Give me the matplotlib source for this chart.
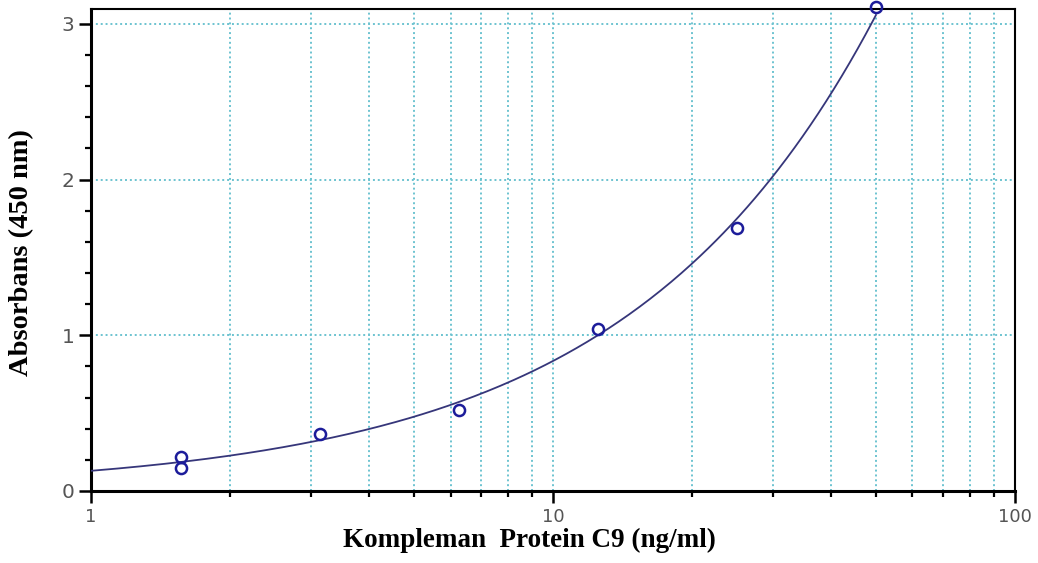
import numpy as np
import matplotlib
matplotlib.use("Agg")
import matplotlib.pyplot as plt
from matplotlib.ticker import LogLocator, MultipleLocator, NullFormatter, FixedLocator

# standard points
conc = [1.5625, 1.5625, 3.125, 6.25, 12.5, 25, 50]
absorb = [0.22, 0.15, 0.365, 0.52, 1.04, 1.69, 3.11]

# fitted curve (quadratic in log-log space)
coef = np.polyfit(np.log10(conc), np.log10(absorb), 2)
xfit = np.logspace(0, np.log10(50), 300)
yfit = 10 ** np.polyval(coef, np.log10(xfit))

fig = plt.figure(figsize=(10.38, 5.63), dpi=100)
ax = fig.add_axes([0.0877, 0.128, 0.8901, 0.856])

ax.plot(xfit, yfit, color="#36367a", lw=1.3, zorder=3)
ax.plot(conc, absorb, "o", mfc="none", mec="#1c1c9a", mew=1.8, ms=8, zorder=4, clip_on=False)

ax.set_xscale("log")
ax.set_xlim(1, 100)
ax.set_ylim(0, 3.095)

ax.xaxis.set_major_locator(FixedLocator([1, 10, 100]))
ax.xaxis.set_minor_locator(LogLocator(base=10, subs=np.arange(2, 10)))
ax.xaxis.set_minor_formatter(NullFormatter())
ax.set_xticklabels(["1", "10", "100"])
ax.yaxis.set_major_locator(FixedLocator([0, 1, 2, 3]))
ax.yaxis.set_minor_locator(MultipleLocator(0.2))

gcol = "#6cc3d0"
ax.grid(True, which="major", axis="both", color=gcol, ls=(0, (1, 1.5)), lw=1.4)
ax.grid(True, which="minor", axis="x", color=gcol, ls=(0, (1, 1.5)), lw=1.4)

ax.tick_params(which="major", direction="out", length=8.5, width=1.8, color="black",
               labelcolor="#555555")
ax.tick_params(which="minor", direction="out", length=4, width=1.6, color="black")
ax.tick_params(axis="x", which="major", pad=3.5, labelsize=13)
ax.tick_params(axis="y", which="major", pad=3.5, labelsize=14.5)

for s in ["left", "bottom"]:
    ax.spines[s].set_linewidth(2.2)
for s in ["top", "right"]:
    ax.spines[s].set_linewidth(1.5)

ax.set_xlabel("Kompleman  Protein C9 (ng/ml)", family="Liberation Serif",
              fontweight="bold", fontsize=19.5)
ax.xaxis.set_label_coords(0.474, -0.077)
ax.set_ylabel("Absorbans (450 nm)", family="Liberation Serif",
              fontweight="bold", fontsize=20.5)
ax.yaxis.set_label_coords(-0.062, 0.494)

fig.savefig("out.png", dpi=100)
